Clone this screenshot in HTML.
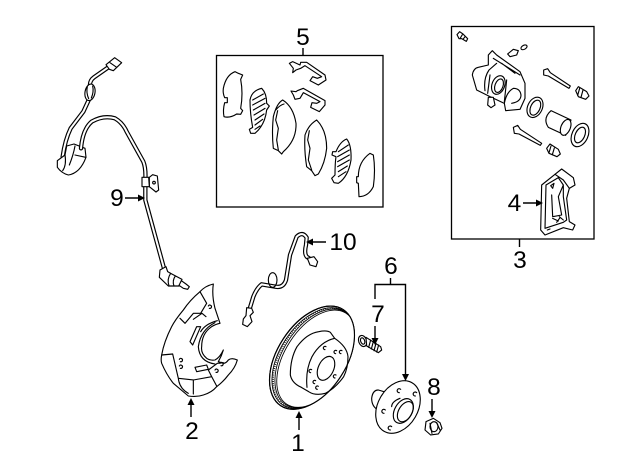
<!DOCTYPE html>
<html><head><meta charset="utf-8"><style>
html,body{margin:0;padding:0;background:#fff;width:640px;height:471px;overflow:hidden}
svg{display:block}
text{font-family:"Liberation Sans",sans-serif;font-size:24.5px;fill:#000;text-anchor:middle}
.z{fill:none;stroke:#000;stroke-width:3.4;stroke-linejoin:round;stroke-linecap:round}
.f{fill:#fff}
.w1{fill:none;stroke:#000;stroke-width:13;stroke-linecap:round;stroke-linejoin:round}
.w2{fill:none;stroke:#fff;stroke-width:6;stroke-linecap:round;stroke-linejoin:round}
.l{stroke:#000;stroke-width:1.4;fill:none}
</style></head><body>
<svg width="640" height="471" viewBox="0 0 640 471" xmlns="http://www.w3.org/2000/svg">
<rect width="640" height="471" fill="#fff"/>

<rect x="216.5" y="55.5" width="166.5" height="151.5" fill="none" stroke="#000" stroke-width="1.3"/>
<rect x="451.5" y="26.5" width="142.5" height="212.5" fill="none" stroke="#000" stroke-width="1.3"/>
<path class="l" d="M303 48V55M519.5 239V247M390.5 278V284.5M375 299V284.5H405.5V372"/>

<!-- sensor 9 -->
<g transform="translate(20,40) scale(.33333)">
  <path class="w1" d="M265,82L222,112Q208,122 210,140M208,176L190,215L152,265Q135,300 128,350"/>
  <path class="w2" d="M265,82L222,112Q208,122 210,140M208,176L190,215L152,265Q135,300 128,350"/>
  <path class="z f" d="M258,74L284,53L305,68L280,92L268,88Z"/>
  <path class="z" d="M270,68L290,82"/>
  <ellipse class="z f" cx="210" cy="157" rx="15" ry="25" transform="rotate(10 210 157)"/>
  <path class="z" d="M202,140Q198,158 206,176M218,138Q222,155 214,174"/>
  <path class="z f" d="M112,362L135,345L140,318L162,312L195,325L198,352Q180,400 145,405Q125,400 112,382Z"/>
  <path class="z" d="M135,345Q140,375 128,392M165,318Q160,345 148,375M165,345L197,352"/>
  <path class="w1" d="M183,325Q188,268 215,245Q250,225 285,235Q308,248 320,275L370,365Q378,385 376,420L376,480L432,685"/>
  <path class="w2" d="M183,325Q188,268 215,245Q250,225 285,235Q308,248 320,275L370,365Q378,385 376,420L376,480L432,685"/>
  <path class="z f" d="M388,412L398,404L412,408L416,450L408,456L388,440Z"/>
  <circle class="z" cx="402" cy="428" r="4"/>
  <path class="z f" d="M366,412L386,412L388,440L366,440Z"/>
  <path class="z f" d="M420,690L438,680L443,695L452,700L486,718L478,738L445,738L418,712Z"/>
  <path class="z f" d="M484,722L498,732L508,740L503,748L490,745L477,736Z"/>
  <path class="z" d="M452,700Q440,718 447,738M466,708Q456,722 462,738"/>
</g>

<!-- pads -->
<g transform="translate(210,20) scale(.33333)">
  <path class="z f" d="M238,130L248,125L270,135L272,127L290,127L345,165L348,180L325,195L300,182L308,170L322,175L335,170L285,137L272,145L258,150L248,158L250,145Z"/>
  <path class="z f" d="M243,213L258,215L262,212L280,205L345,242L345,255L328,275L302,262L306,248L320,250L330,245L280,218L270,235L255,238L250,225Z"/>
  <path class="z f" d="M40,205Q48,165 75,155L85,160L98,165L92,178Q100,220 92,265L98,272L92,283L80,282Q60,295 42,290Q38,270 44,248L52,248L52,233L44,233Q38,220 40,205Z"/>
  <path class="z f" d="M120,240Q125,212 155,205Q170,220 170,250L178,258L170,270Q165,315 135,340L122,340L118,328L128,322Q120,280 120,240Z"/>
  <path class="z" d="M128,240L160,222M128,255L165,235M130,270L165,250M132,285L165,265M135,300L162,282M135,315L158,298M135,328L150,318"/>
  <path class="z f" d="M190,290Q200,250 218,240Q250,260 258,310Q260,360 220,395L215,402L205,392L190,385Q185,340 190,290Z"/>
  <path class="z" d="M203,272L197,300L205,325L200,360L205,390M197,270Q210,255 222,252"/>
  <path class="z f" d="M285,345Q295,315 320,300Q350,330 350,385Q345,430 325,462L315,467L305,452L290,440Q282,390 285,345Z"/>
  <path class="z" d="M298,332L293,360L300,385L295,420L305,450"/>
  <path class="z f" d="M378,395Q390,365 410,357Q425,375 423,420Q415,470 385,490L372,488L365,475L375,465Q375,430 378,410L366,405L368,395Z"/>
  <path class="z" d="M385,395L415,375M383,410L418,390M383,425L418,405M383,440L418,420M385,455L412,438M385,470L408,455"/>
  <path class="z f" d="M445,470Q445,425 480,400L490,405Q497,450 490,500Q475,530 447,530L445,490L440,488L440,470Z"/>
</g>

<!-- caliper kit -->
<g transform="translate(445,20) scale(.33333)">
  <path class="z f" d="M36,44L44,35L54,42L68,56L64,64L50,56L42,56Z" stroke-width="5"/>
  <path class="z" d="M52,44L46,54M60,50L54,58"/>
  <path class="z f" d="M82,165Q85,145 100,142L130,135L130,105L142,92L155,105L225,155L240,190L240,235L225,268L182,272L178,250L135,230L95,210Z"/>
  <path class="z" d="M145,115L225,165M120,212Q115,175 132,150L155,130M128,220L135,165M170,130L210,160M178,250Q185,215 205,205Q225,205 228,225Q228,245 200,250M185,180L178,245"/>
  <ellipse class="z f" cx="160" cy="195" rx="19" ry="29" transform="rotate(20 160 195)"/>
  <ellipse class="z" cx="162" cy="197" rx="12" ry="21" transform="rotate(20 162 197)"/>
  <path class="z f" d="M130,232L145,232L150,255L138,263L128,255Z"/>
  <ellipse class="z f" cx="237" cy="82" rx="10" ry="6" transform="rotate(-30 237 82)"/>
  <path class="z f" d="M188,102L205,88L220,92L215,105L195,110Z"/>
  <ellipse class="z f" cx="270" cy="262" rx="22" ry="32" transform="rotate(25 270 262)"/>
  <ellipse class="z" cx="271" cy="263" rx="14" ry="24" transform="rotate(25 271 263)"/>
  <path class="z f" d="M296,150L308,146L316,158L376,198L372,205L310,168L296,165Z"/>
  <path class="z f" d="M392,212L400,200L425,215L432,228L422,238L400,230Z"/>
  <path class="z" d="M404,205L398,226M414,210L408,232"/>
  <path class="z f" d="M318,272L378,300L362,346L310,322Q292,295 318,272Z"/>
  <ellipse class="z f" cx="362" cy="322" rx="14" ry="25" transform="rotate(22 362 322)"/>
  <ellipse class="z f" cx="405" cy="345" rx="24" ry="37" transform="rotate(25 405 345)"/>
  <ellipse class="z" cx="405" cy="345" rx="14" ry="25" transform="rotate(25 405 345)"/>
  <path class="z f" d="M205,322L218,316L226,328L290,370L286,376L222,342L208,340Z"/>
  <path class="z f" d="M305,385L315,372L340,388L346,402L336,410L312,400Z"/>
  <path class="z" d="M318,378L312,398M328,384L322,404"/>
</g>

<!-- caliper bracket -->
<g transform="translate(530,165) scale(.33333)">
  <path class="z f" d="M35,60L75,28L95,12L130,38L135,60L118,70L110,100L118,170L135,180L128,195L100,188L45,210L32,195Z"/>
  <path class="z" d="M48,60L45,190L100,172L110,165L100,95L100,60L85,38L48,60M75,28L100,45L118,70M62,62L72,55L68,70ZM65,90L68,155L95,150M95,150L85,95L100,60M68,160L85,168M88,155L100,165M90,158L80,172M52,195L60,192"/>
</g>

<!-- shield (zoom 6 coords) -->
<g transform="translate(160,280) scale(.33333)">
  <path class="z f" d="M160,12Q135,18 120,35Q90,60 70,90Q45,120 35,140Q12,185 5,225Q2,240 5,250Q20,285 40,310L85,348Q110,352 130,345Q155,338 170,320Q190,305 205,285Q225,265 232,240Q215,232 205,240Q198,250 190,250L175,245Q185,228 190,210Q180,232 165,240Q150,242 140,235Q122,220 125,200Q125,160 155,140Q168,132 180,130L165,85Q155,45 160,12Z"/>
  <path class="z" d="M120,35L140,70L122,100L100,100L75,130L60,115M5,225L38,222L55,295L100,300L100,342M55,295Q58,325 85,340M100,300L155,290L170,318M155,290L145,270L172,250L190,248M165,128Q122,150 115,200Q118,245 165,252M172,122Q135,132 122,155M100,118L126,100L138,110M90,185L110,140L122,140L98,195ZM105,262L140,255L145,268L110,275Z"/>
  <path class="z" d="M145,78a5,5 0 1 1 3,7M58,238a5,5 0 1 1 3,7M58,258a5,5 0 1 1 3,7M165,270a5,5 0 1 1 3,7M180,250a5,5 0 1 1 3,7"/>
</g>

<!-- hose 10 (zoom 4 coords) -->
<g transform="translate(150,225) scale(.33333)">
  <path class="w1" d="M492,110L470,95Q462,85 468,60L470,38Q458,18 440,35L420,90L408,165Q400,190 375,185L335,178Q320,190 310,215L297,258L288,290"/>
  <path class="w2" d="M492,110L470,95Q462,85 468,60L470,38Q458,18 440,35L420,90L408,165Q400,190 375,185L335,178Q320,190 310,215L297,258L288,290"/>
  <ellipse class="z" cx="368" cy="165" rx="13" ry="22"/>
  <path class="z f" d="M472,100L492,95L503,110L498,125L480,120Z"/>
  <path class="z f" d="M290,248L305,250L310,262L300,272L306,290L292,305L278,298L280,282L288,272Z"/>
</g>

<!-- disc -->
<defs><clipPath id="dc"><ellipse cx="150" cy="173" rx="103" ry="172" transform="rotate(33 150 173)"/></clipPath></defs>
<g transform="translate(262,300) scale(.33333)">
  <ellipse class="z f" cx="150" cy="173" rx="103" ry="172" transform="rotate(33 150 173)"/>
  <g clip-path="url(#dc)">
    <ellipse fill="none" stroke="#000" stroke-width="2.600" cx="154" cy="174" rx="100" ry="168" transform="rotate(33 154 174)"/>
    <ellipse fill="none" stroke="#000" stroke-width="5" stroke-dasharray="2.500 4" cx="157" cy="175" rx="100" ry="167" transform="rotate(33 157 175)"/>
    <ellipse fill="none" stroke="#000" stroke-width="2.600" cx="160" cy="175" rx="97" ry="165" transform="rotate(33 160 175)"/>
    <ellipse fill="#fff" stroke="#000" stroke-width="2.600" cx="163" cy="176" rx="94" ry="163" transform="rotate(33 163 176)"/>
  </g>
  <ellipse fill="none" stroke="#000" stroke-width="3.400" cx="150" cy="173" rx="103" ry="172" transform="rotate(33 150 173)"/>
  <path class="z" d="M118,262Q90,250 85,225Q85,175 105,140Q135,100 170,95Q195,90 205,97L218,115Q255,140 258,170Q258,205 245,230Q220,265 190,280Q160,288 140,275L118,262M218,115Q175,125 150,170Q130,210 135,262"/>
  <ellipse class="z" cx="192" cy="205" rx="23" ry="38" transform="rotate(25 192 205)"/>
  <path class="z" d="M192,140a5,5 0 1 0 -3,9M224,152a5,5 0 1 0 -3,9M240,152a5,5 0 1 0 -3,9M149,209a5,5 0 1 0 -3,9M161,242a5,5 0 1 0 -3,9M169,259a5,5 0 1 0 -3,9M222,225a5,5 0 1 0 -3,9"/>
</g>

<!-- bolt, hub, nut -->
<g transform="translate(260,250) scale(.33333)">
  <ellipse class="z f" cx="308" cy="273" rx="12" ry="17" transform="rotate(-20 308 273)"/>
  <ellipse class="z" cx="308" cy="273" rx="6" ry="10" transform="rotate(-20 308 273)"/>
  <path class="z f" d="M318,262L362,290L365,300L355,308L320,288Z"/>
  <path class="z" d="M332,270L326,292M340,275L334,297M348,280L342,302M356,285L350,306" stroke-width="4"/>
  <path class="z f" d="M355,420Q338,420 335,445Q335,470 355,480L372,470L372,425Z"/>
  <ellipse class="z f" cx="414" cy="471" rx="60" ry="84" transform="rotate(30 414 471)"/>
  <ellipse class="z" cx="430" cy="483" rx="26" ry="40" transform="rotate(30 430 483)"/>
  <ellipse class="z" cx="436" cy="485" rx="20" ry="33" transform="rotate(30 436 485)"/>
  <path class="z" d="M395,470Q395,455 420,445"/>
  <path class="z" d="M422,418a6,6 0 1 0 -4,10M470,428a6,6 0 1 0 -4,10M376,480a6,6 0 1 0 -4,10M395,530a6,6 0 1 0 -4,10"/>
  <path class="z f" d="M498,515L520,505L540,518L546,535L535,552L512,555L495,540Z" stroke-width="5"/>
  <ellipse class="z" cx="522" cy="530" rx="12" ry="15" stroke-width="5"/>
  <path class="z" d="M510,520L516,550M530,518L540,540" stroke-width="4"/>
</g>

<!-- arrows -->
<g class="l">
  <path d="M523 203H537M125 198H140M311 242H326M191 403V417M299 416V430M375 326V340M405.5 372V377M432 399V413"/>
</g>
<g fill="#000">
  <path d="M543 203L536 199.5V206.5Z"/>
  <path d="M145 198L138 194.5V201.5Z"/>
  <path d="M306 242L313 238.5V245.5Z"/>
  <path d="M191 398L187.5 405H194.5Z"/>
  <path d="M299 411L295.5 418H302.5Z"/>
  <path d="M375 345L371.5 338H378.5Z"/>
  <path d="M405.5 381L402 374H409Z"/>
  <path d="M432 418L428.5 411H435.5Z"/>
</g>

<text x="303" y="45">5</text>
<text x="520" y="268">3</text>
<text x="514.5" y="211">4</text>
<text x="117" y="206">9</text>
<text x="343" y="250">10</text>
<text x="391" y="274">6</text>
<text x="378" y="322">7</text>
<text x="434" y="395">8</text>
<text x="298" y="451">1</text>
<text x="192" y="439">2</text>
</svg>
</body></html>
